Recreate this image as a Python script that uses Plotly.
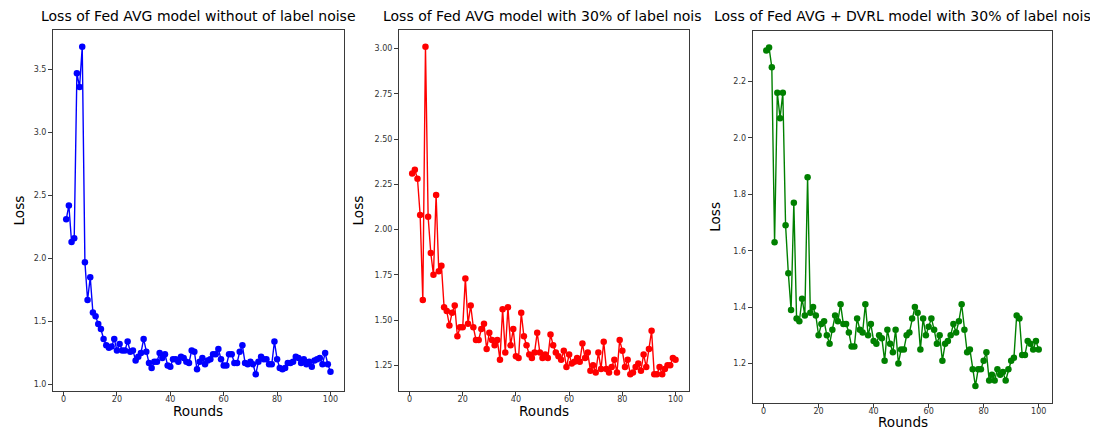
import plotly.graph_objects as go

rounds = list(range(1, 101))

loss_fedavg_clean = [
    2.31, 2.42, 2.13, 2.16, 3.47, 3.36, 3.68, 1.97, 1.67, 1.85,
    1.57, 1.54, 1.48, 1.44, 1.36, 1.31, 1.29, 1.30, 1.36, 1.27,
    1.32, 1.27, 1.27, 1.34, 1.26, 1.27, 1.19, 1.22, 1.25, 1.36,
    1.26, 1.17, 1.13, 1.18, 1.18, 1.25, 1.21, 1.24, 1.15, 1.14,
    1.20, 1.20, 1.18, 1.22, 1.21, 1.18, 1.17, 1.27, 1.26, 1.12,
    1.18, 1.21, 1.16, 1.19, 1.20, 1.24, 1.24, 1.28, 1.20, 1.15,
    1.15, 1.24, 1.24, 1.17, 1.17, 1.26, 1.31, 1.17, 1.16, 1.18,
    1.16, 1.08, 1.18, 1.22, 1.20, 1.20, 1.16, 1.16, 1.34, 1.20,
    1.13, 1.12, 1.13, 1.17, 1.17, 1.18, 1.22, 1.21, 1.17, 1.20,
    1.16, 1.18, 1.14, 1.19, 1.20, 1.21, 1.16, 1.25, 1.16, 1.10,
]

loss_fedavg_noisy = [
    2.31, 2.33, 2.28, 2.08, 1.61, 3.01, 2.07, 1.87, 1.75, 2.19,
    1.77, 1.80, 1.57, 1.55, 1.47, 1.54, 1.58, 1.41, 1.46, 1.46,
    1.73, 1.48, 1.58, 1.46, 1.39, 1.39, 1.45, 1.48, 1.34, 1.43,
    1.39, 1.36, 1.39, 1.28, 1.56, 1.32, 1.57, 1.36, 1.45, 1.30,
    1.29, 1.54, 1.41, 1.36, 1.31, 1.29, 1.32, 1.43, 1.32, 1.29,
    1.31, 1.29, 1.42, 1.36, 1.32, 1.30, 1.28, 1.33, 1.24, 1.31,
    1.26, 1.27, 1.29, 1.27, 1.37, 1.29, 1.32, 1.22, 1.25, 1.21,
    1.32, 1.23, 1.38, 1.23, 1.21, 1.24, 1.28, 1.21, 1.39, 1.33,
    1.24, 1.28, 1.20, 1.21, 1.24, 1.26, 1.22, 1.31, 1.24, 1.34,
    1.44, 1.20, 1.20, 1.24, 1.20, 1.23, 1.25, 1.25, 1.29, 1.28,
]

loss_fedavg_dvrl = [
    2.31, 2.32, 2.25, 1.63, 2.16, 2.07, 2.16, 1.69, 1.52, 1.39,
    1.77, 1.36, 1.35, 1.43, 1.37, 1.86, 1.38, 1.40, 1.37, 1.30,
    1.34, 1.35, 1.30, 1.27, 1.32, 1.37, 1.35, 1.41, 1.34, 1.34,
    1.31, 1.26, 1.26, 1.36, 1.32, 1.31, 1.41, 1.30, 1.34, 1.28,
    1.27, 1.30, 1.29, 1.21, 1.32, 1.27, 1.24, 1.32, 1.20, 1.25,
    1.25, 1.30, 1.31, 1.36, 1.40, 1.38, 1.25, 1.36, 1.30, 1.33,
    1.36, 1.32, 1.27, 1.30, 1.21, 1.27, 1.28, 1.30, 1.34, 1.31,
    1.35, 1.41, 1.32, 1.24, 1.25, 1.18, 1.12, 1.18, 1.18, 1.21,
    1.24, 1.14, 1.16, 1.14, 1.18, 1.16, 1.17, 1.14, 1.18, 1.21,
    1.22, 1.37, 1.36, 1.23, 1.23, 1.28, 1.27, 1.25, 1.28, 1.25,
]

titles = [
    "Loss of Fed AVG model without of label noise",
    "Loss of Fed AVG model with 30% of label nois",
    "Loss of Fed AVG + DVRL model with 30% of label noise",
]
x_ticks = [0, 20, 40, 60, 80, 100]
y_ticks_1 = [1.0, 1.5, 2.0, 2.5, 3.0, 3.5]
y_ticks_2 = [1.25, 1.50, 1.75, 2.00, 2.25, 2.50, 2.75, 3.00]
y_ticks_3 = [1.2, 1.4, 1.6, 1.8, 2.0, 2.2]

W, H = 1098, 427
FONT = "DejaVu Sans"
AXC = "#3a3a3a"

series = [
    (loss_fedavg_clean, "#0000ff", y_ticks_1, "{:.1f}"),
    (loss_fedavg_noisy, "#ff0000", y_ticks_2, "{:.2f}"),
    (loss_fedavg_dvrl, "#008000", y_ticks_3, "{:.1f}"),
]
# panel boxes in pixels: left, right, top, bottom
boxes = [(45, 335.7, 22.3, 382.7), (391, 680.7, 22.3, 382.7), (744.7, 1044.3, 22.7, 395)]
standoffs = [-3, -3, -4]

fig = go.Figure()
for i, ((vals, col, yt, fmt), (l, r, t, b), so) in enumerate(zip(series, boxes, standoffs)):
    n = "" if i == 0 else str(i + 1)
    fig.add_trace(go.Scatter(
        x=rounds, y=vals, mode="lines+markers",
        line=dict(color=col, width=1.4),
        marker=dict(color=col, size=6.5),
        xaxis="x" + n, yaxis="y" + n, showlegend=False,
    ))
    ymin, ymax = min(vals), max(vals)
    pad = 0.05 * (ymax - ymin)
    xpad = 0.05 * (max(rounds) - min(rounds))
    common = dict(showline=True, mirror=True, linecolor=AXC, linewidth=1,
                  ticks="outside", ticklen=4, tickwidth=1, tickcolor=AXC,
                  showgrid=False, zeroline=False,
                  tickfont=dict(family=FONT, size=8, color="#333"))
    fig.update_layout(**{
        "xaxis" + n: dict(domain=[l / W, r / W], anchor="y" + n,
                          range=[min(rounds) - xpad, max(rounds) + xpad],
                          tickvals=x_ticks, ticktext=[str(v) for v in x_ticks],
                          ticklabelstandoff=so, **common),
        "yaxis" + n: dict(domain=[1 - b / H, 1 - t / H], anchor="x" + n,
                          range=[ymin - pad, ymax + pad],
                          tickvals=yt, ticktext=[fmt.format(v) for v in yt], **common),
    })

annotations = []
TY = 1 - 7.5 / H
tfont = dict(family=FONT, size=14, color="#000")
annotations.append(dict(text=titles[0], x=190.3 / W, y=TY, xanchor="center", yanchor="middle", font=tfont))
annotations.append(dict(text=titles[1], x=373 / W, y=TY, xanchor="left", yanchor="middle", font=tfont))
annotations.append(dict(text=titles[2], x=1093 / W, y=TY, xanchor="right", yanchor="middle", font=tfont))
lfont = dict(family=FONT, size=13.6, color="#000")
for off, (l, r, t, b) in zip([20.5, 20.5, 18.5], boxes):
    annotations.append(dict(text="Rounds", x=(l + r) / 2 / W, y=1 - (b + off) / H,
                            xanchor="center", yanchor="middle", font=lfont))
for xc, (l, r, t, b) in zip([10, 349, 707], boxes):
    annotations.append(dict(text="Loss", x=xc / W, y=1 - (t + b) / 2 / H, textangle=-90,
                            xanchor="center", yanchor="middle", font=lfont))
for a in annotations:
    a.update(xref="paper", yref="paper", showarrow=False)

fig.update_layout(width=W, height=H, margin=dict(l=0, r=0, t=0, b=0),
                  paper_bgcolor="white", plot_bgcolor="white",
                  annotations=annotations)
fig.write_html("out.html")
